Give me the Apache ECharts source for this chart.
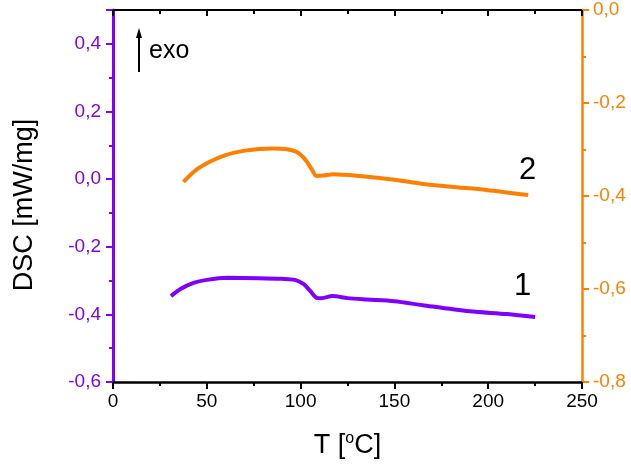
<!DOCTYPE html>
<html style="height: 100%">
<head>
<meta charset="utf-8" />
<title>DSC</title>
</head>
<body style="height: 100%; margin: 0; background: #fff">
<div id="container" style="width: 631px; height: 465px"></div>
<script type="text/javascript" src="https://cdn.jsdelivr.net/npm/echarts@6/dist/echarts.min.js"></script>
<script type="text/javascript">
// curve 1 (left axis, mW/mg)
var temp1 = [30.9, 36, 42.9, 50, 60.7, 78, 90, 97, 101.5, 105, 108.6, 111, 117, 125, 135, 150, 165, 190, 210, 225];
var dsc1 = [-0.346, -0.325, -0.307, -0.298, -0.292, -0.293, -0.295, -0.298, -0.31, -0.33, -0.351, -0.352, -0.346, -0.352, -0.356, -0.361, -0.373, -0.391, -0.399, -0.408];
// curve 2 (right axis)
var temp2 = [37.6, 44, 51.8, 60, 69.5, 78, 85.5, 92, 97.9, 101, 103.3, 106, 108.6, 112, 117.4, 131.7, 150, 163.6, 180, 199, 221.3];
var dsc2 = [-0.3695, -0.345, -0.326, -0.312, -0.303, -0.299, -0.2977, -0.299, -0.305, -0.315, -0.326, -0.343, -0.357, -0.356, -0.353, -0.357, -0.365, -0.373, -0.38, -0.387, -0.398];
var labelPos1 = [218.4, -0.317];
var labelPos2 = [221, -0.344];

var purple = '#7f00ff';
var orange = '#ff8000';
var fmt = function (v) { return v.toFixed(1).replace('.', ','); };

function pairs(xs, ys) {
    var out = [];
    for (var i = 0; i < xs.length; i++) out.push([xs[i], ys[i]]);
    return out;
}

function curveLabel(text, pos) {
    return {
        symbol: 'circle', symbolSize: 1,
        itemStyle: { color: 'rgba(0,0,0,0)' },
        label: { show: true, position: 'inside', fontSize: 31, color: '#000', formatter: text },
        data: [{ coord: pos }]
    };
}

var myChart = echarts.init(document.getElementById('container'));
var option = {
    animation: false,
    textStyle: { fontFamily: 'Liberation Sans' },
    grid: { left: 113, right: 49, top: 10, bottom: 83 },
    xAxis: [{
        type: 'value', min: 0, max: 250, interval: 50, position: 'bottom',
        name: 'T [{s|o}C]', nameLocation: 'middle', nameGap: 49,
        nameTextStyle: { fontSize: 27, color: '#000', rich: { s: { fontSize: 16, verticalAlign: 'top', padding: [0, 0, 13, 0] } } },
        axisLine: { onZero: false, lineStyle: { color: '#000', width: 2.5 } },
        axisTick: { length: 7, lineStyle: { width: 2, color: '#000' } },
        minorTick: { show: true, splitNumber: 2, length: 4, lineStyle: { width: 2, color: '#000' } },
        axisLabel: { fontSize: 19, color: '#000', margin: 10 },
        splitLine: { show: false }
    }, {
        type: 'value', min: 0, max: 250, interval: 50, position: 'top',
        axisLine: { onZero: false, lineStyle: { color: '#000', width: 2 } },
        axisTick: { inside: true, length: 6, lineStyle: { width: 2, color: '#000' } },
        minorTick: { show: true, splitNumber: 2, length: 4, lineStyle: { width: 2, color: '#000' } },
        axisLabel: { show: false },
        splitLine: { show: false }
    }],
    yAxis: [{
        type: 'value', min: -0.6, max: 0.5, interval: 0.2, position: 'left',
        name: 'DSC [mW/mg]', nameLocation: 'middle', nameGap: 75,
        nameTextStyle: { fontSize: 27, color: '#000', padding: [0, 18, 0, 0] },
        axisLine: { show: true, onZero: false, lineStyle: { color: purple, width: 3 } },
        axisTick: { length: 7, lineStyle: { width: 2, color: purple } },
        minorTick: { show: true, splitNumber: 2, length: 4, lineStyle: { width: 2, color: purple } },
        axisLabel: { fontSize: 19, color: purple, margin: 12, formatter: fmt, showMaxLabel: false },
        splitLine: { show: false }
    }, {
        type: 'value', min: -0.8, max: 0, interval: 0.2, position: 'right',
        axisLine: { show: true, onZero: false, lineStyle: { color: orange, width: 2.5 } },
        axisTick: { length: 7, lineStyle: { width: 2, color: orange } },
        minorTick: { show: true, splitNumber: 2, length: 4, lineStyle: { width: 2, color: orange } },
        axisLabel: { fontSize: 19, color: orange, margin: 11, formatter: fmt },
        splitLine: { show: false }
    }],
    series: [{
        type: 'line', xAxisIndex: 0, yAxisIndex: 0, data: pairs(temp1, dsc1),
        smooth: 0.3, showSymbol: false, lineStyle: { color: purple, width: 4 },
        markPoint: curveLabel('1', labelPos1)
    }, {
        type: 'line', xAxisIndex: 0, yAxisIndex: 1, data: pairs(temp2, dsc2),
        smooth: 0.3, showSymbol: false, lineStyle: { color: orange, width: 4 },
        markPoint: curveLabel('2', labelPos2)
    }],
    graphic: [{
        type: 'line', shape: { x1: 139, y1: 72, x2: 139, y2: 36 },
        style: { stroke: '#000', lineWidth: 2 }
    }, {
        type: 'polygon', shape: { points: [[139, 28], [136, 38], [142, 38]] },
        style: { fill: '#000' }
    }, {
        type: 'text', left: 149, top: 39,
        style: { text: 'exo', fontSize: 25, fill: '#000', fontFamily: 'Liberation Sans' }
    }]
};
myChart.setOption(option);
</script>
</body>
</html>
